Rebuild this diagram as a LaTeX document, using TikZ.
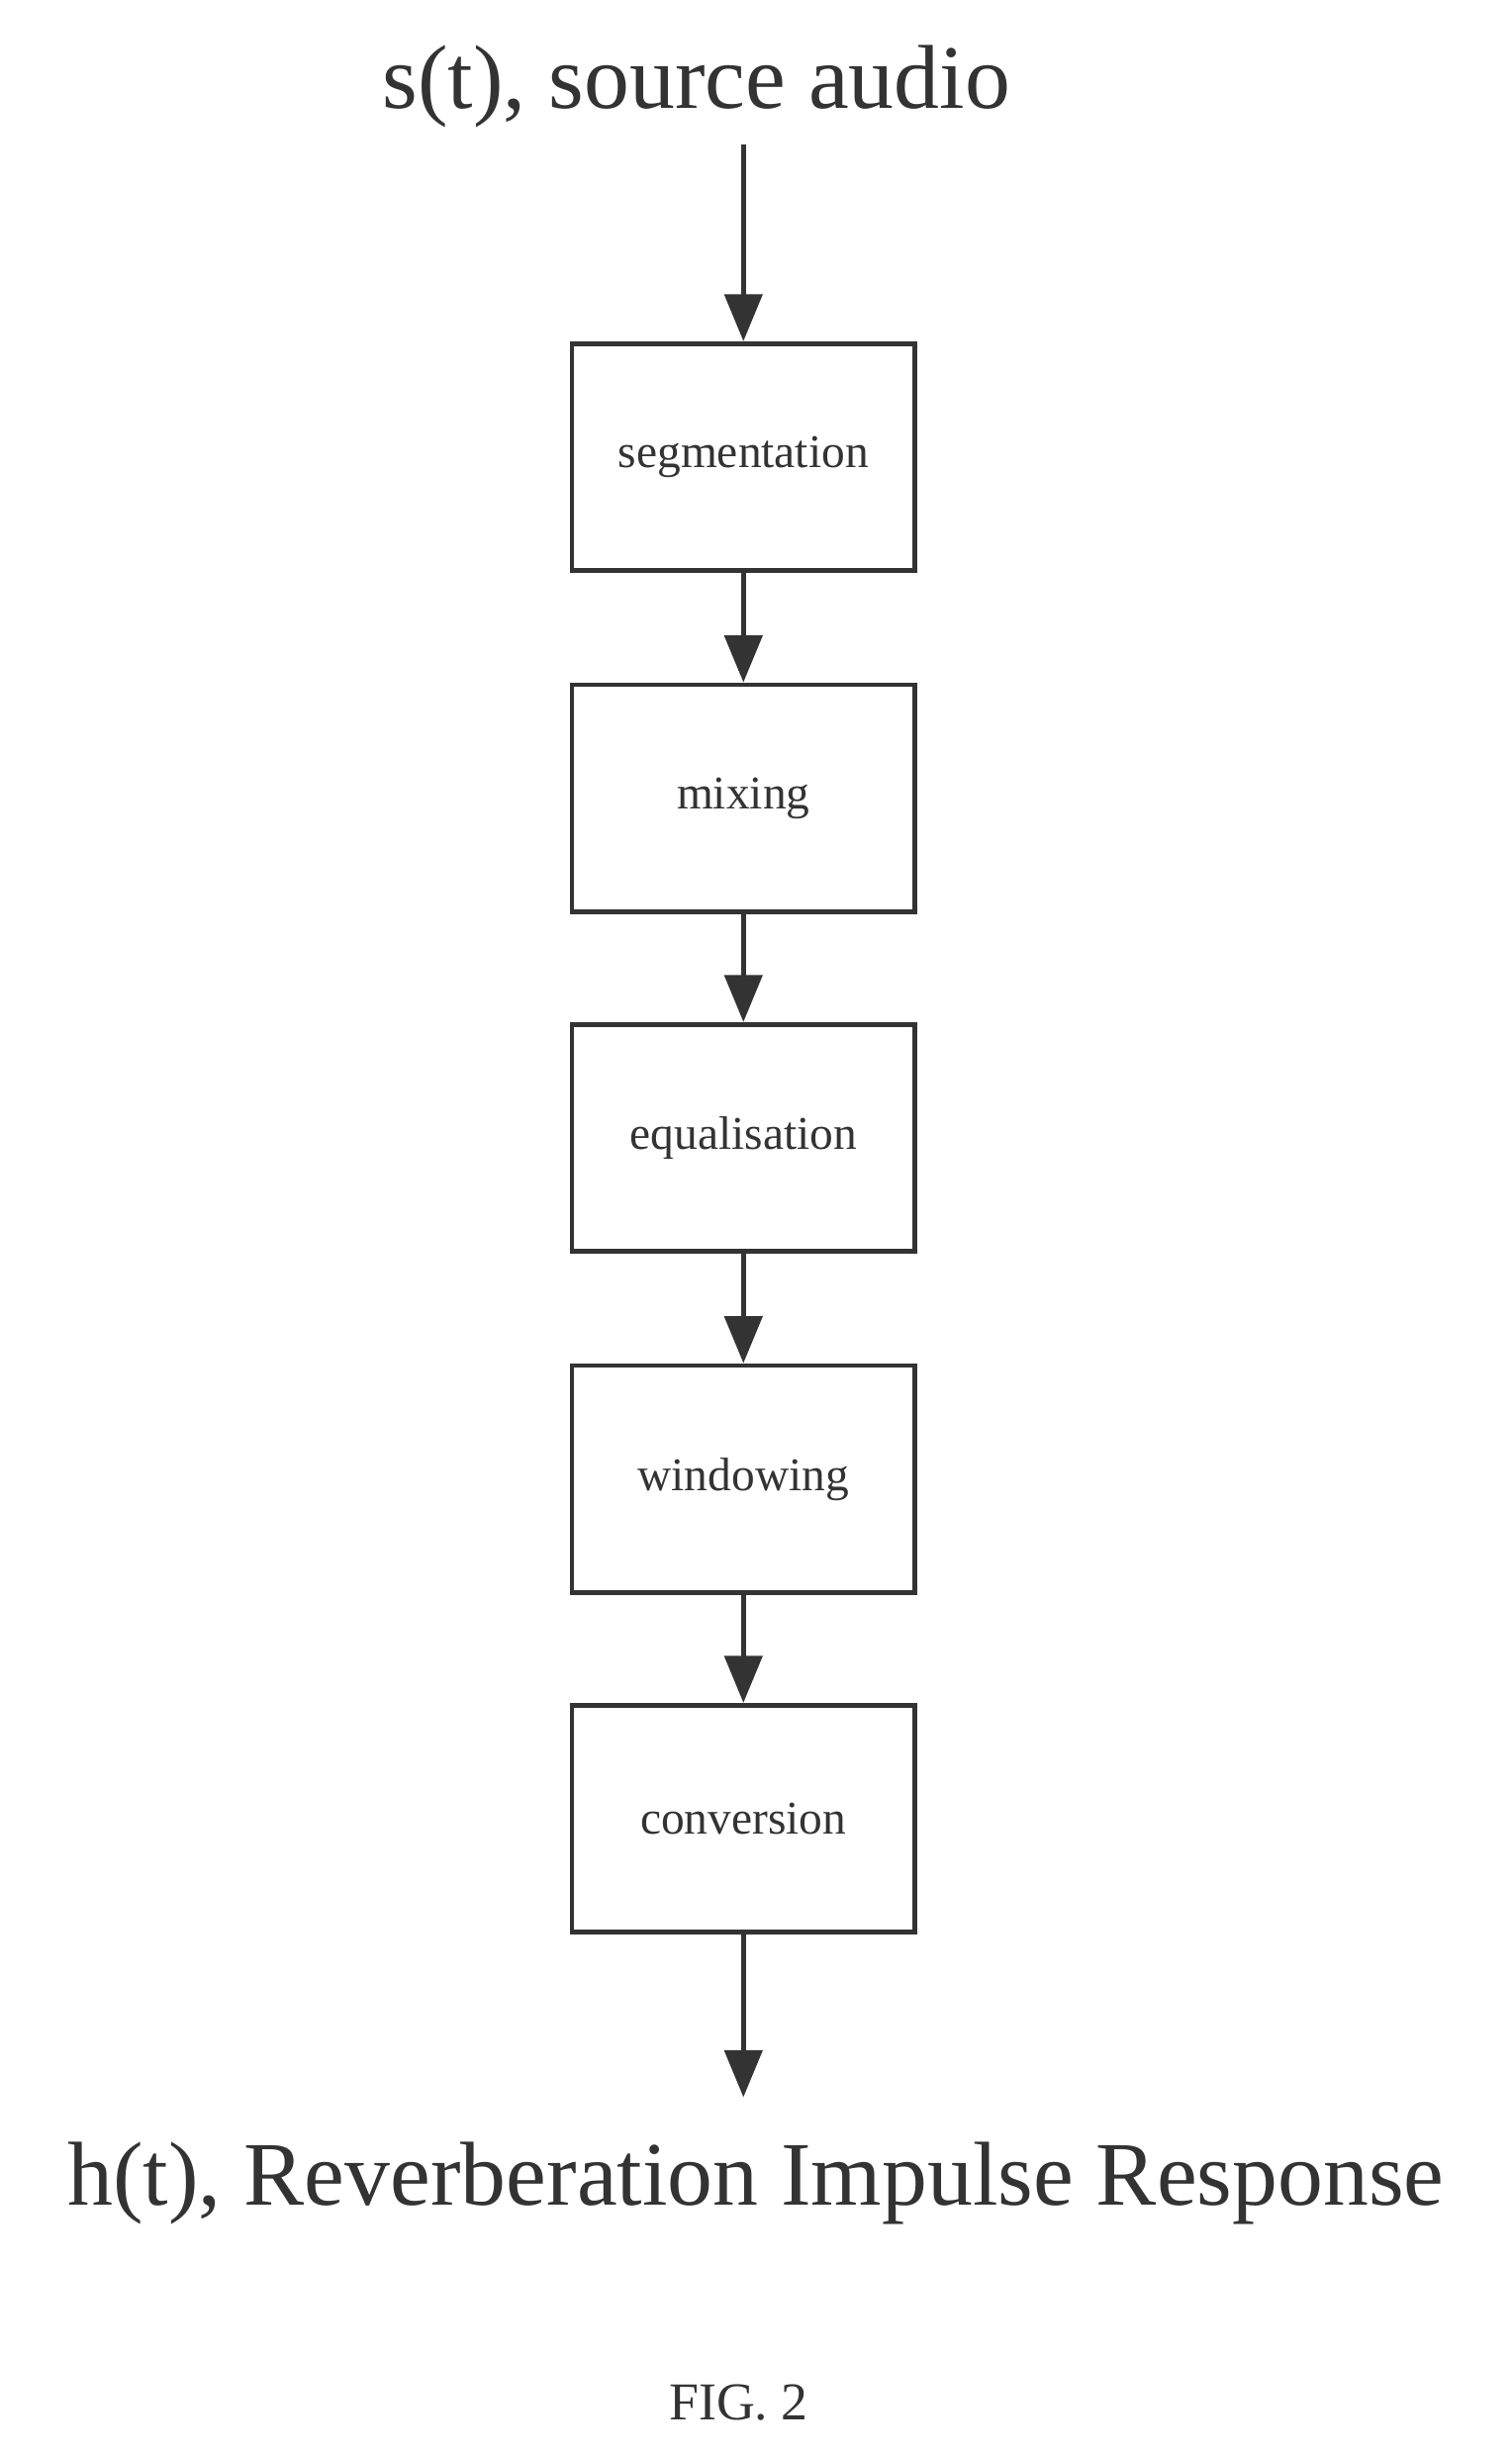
\documentclass[tikz,border=0pt]{standalone}
\usepackage{fontspec}
\setmainfont{Liberation Serif}
\usetikzlibrary{arrows.meta,positioning}
\definecolor{ink}{HTML}{333333}
\begin{document}
\begin{tikzpicture}[x=0.5pt,y=-0.5pt,
  stage/.style={draw=ink,line width=1.5pt,minimum width=109.5pt,minimum height=72.5pt,
    inner sep=0pt,text=ink,font=\fontsize{15}{18}\selectfont},
  big/.style={text=ink,font=\fontsize{29}{34}\selectfont,inner sep=0pt},
  flow/.style={draw=ink,line width=1.5pt,-{Triangle[length=15pt,width=12pt]}}]
\useasboundingbox (0,0) rectangle (966,1568);
% input and output labels
\node[big] (src) at (445,55) {s(t), source audio};
\coordinate (srcend) at (475,92);
\node[big] (out) at (483,1395) {h(t), Reverberation Impulse Response};
\coordinate (outend) at (475,1340);
% processing chain
\node[stage] (seg) at (475,292) {segmentation};
\node[stage] (mix) at (475,510) {mixing};
\node[stage] (equ) at (475,727) {equalisation};
\node[stage] (win) at (475,945) {windowing};
\node[stage] (con) at (475,1162) {conversion};
\draw[flow] (srcend) -- (seg);
\draw[flow] (seg) -- (mix);
\draw[flow] (mix) -- (equ);
\draw[flow] (equ) -- (win);
\draw[flow] (win) -- (con);
\draw[flow] (con) -- (outend);
\node[text=ink,font=\fontsize{17}{20}\selectfont] (fig) at (472,1535) {FIG. 2};
\end{tikzpicture}
\end{document}
